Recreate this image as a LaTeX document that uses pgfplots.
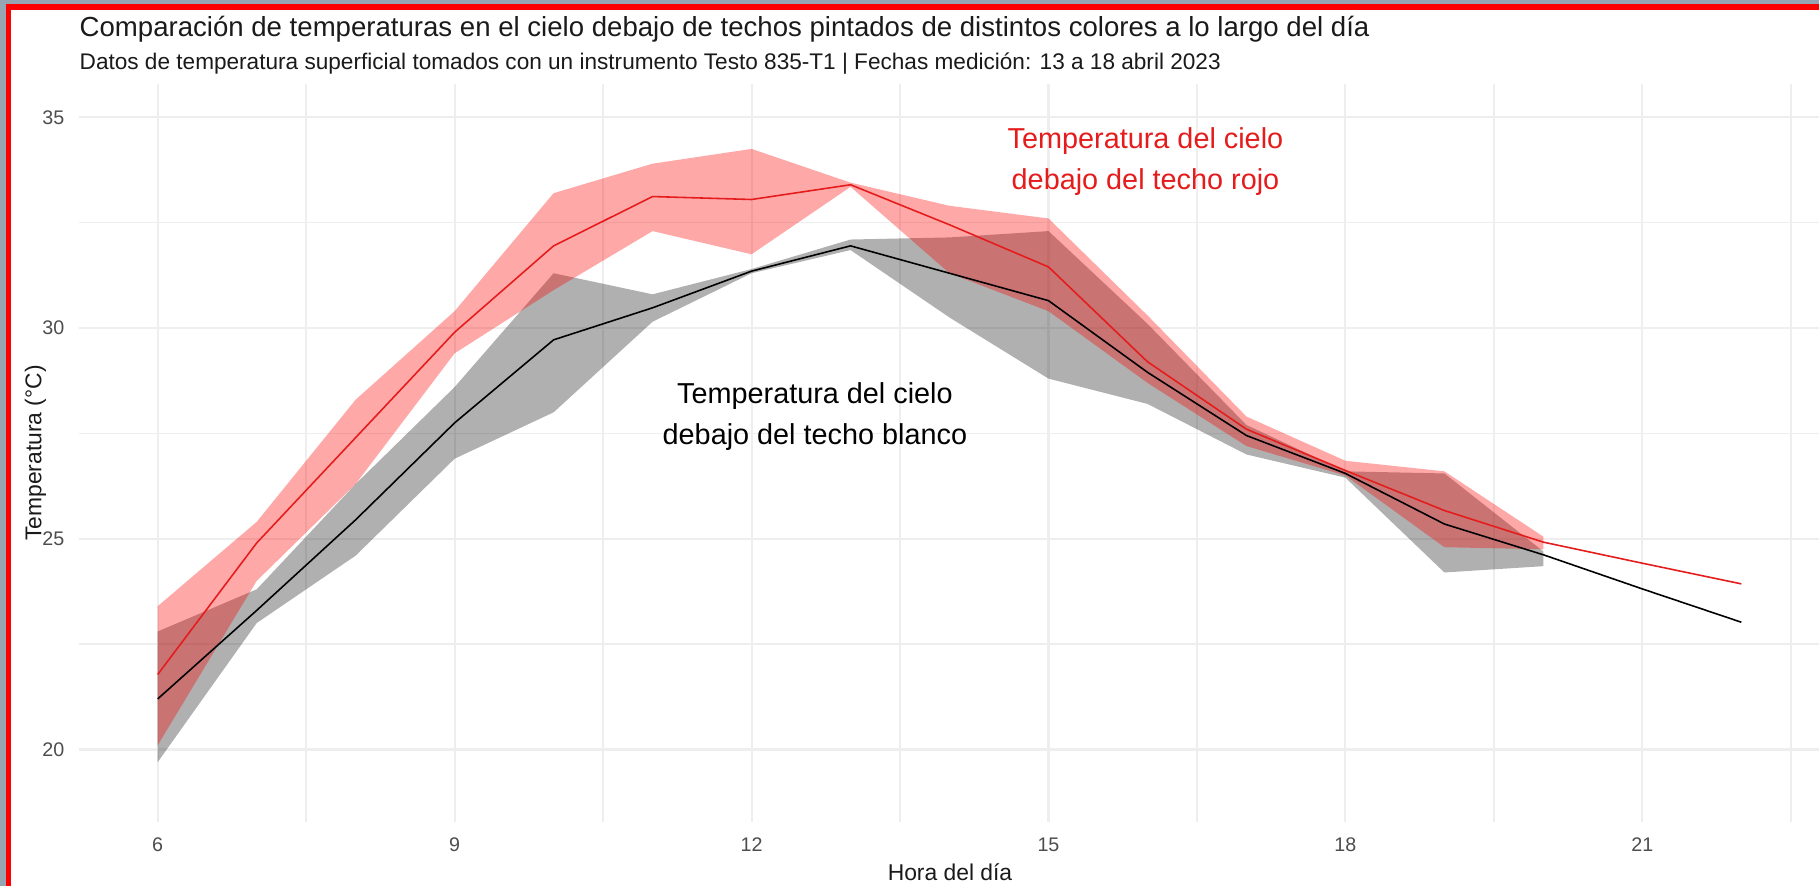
\documentclass[border=0pt]{standalone}
\usepackage{fontspec}
\setmainfont{Liberation Sans}
\usepackage{pgfplots}
\pgfplotsset{compat=1.18}
\definecolor{rojo}{RGB}{228,28,28}
\definecolor{gridc}{RGB}{238,238,238}
\definecolor{tickc}{RGB}{77,77,77}
\definecolor{photo}{RGB}{150,165,180}
\definecolor{titc}{RGB}{26,26,26}
\begin{document}
\begin{tikzpicture}[x=1cm,y=1cm]
\useasboundingbox (0,0) rectangle (18.19,8.86);
\fill[white] (0,0) rectangle (18.19,8.86);
\fill[photo] (0,0) rectangle (0.057,8.86);
\fill[photo] (0,8.815) rectangle (18.19,8.86);
\fill[red] (0.057,0) rectangle (0.107,8.815);
\fill[red] (0.057,8.76) rectangle (18.19,8.815);
\begin{axis}[
  at={(0.785cm,0.64cm)}, anchor=south west,
  scale only axis, width=17.42cm, height=7.384cm,
  xmin=5.2, xmax=22.8, ymin=18.28, ymax=35.8,
  axis line style={draw=none},
  major tick length=0pt, minor tick length=0pt,
  tick style={draw=none},
  xtick={6,9,12,15,18,21},
  minor xtick={7.5,10.5,13.5,16.5,19.5,22.5},
  ytick={20,25,30,35},
  minor ytick={22.5,27.5,32.5},
  grid=both,
  major grid style={draw=gridc, line width=0.6pt},
  minor grid style={draw=gridc, line width=0.45pt},
  /pgf/number format/assume math mode=true,
  ticklabel style={font=\fontsize{5.6}{6.5}\selectfont, text=tickc, inner sep=0pt},
  xticklabel style={yshift=-1.5mm},
  yticklabel style={xshift=-1.35mm},
  clip=false,
]
% gray ribbon
\addplot[draw=none, fill=black, fill opacity=0.31] coordinates {
 (6,22.8) (7,23.8) (8,26.3) (9,28.6) (10,31.3) (11,30.8) (12,31.4) (13,32.1) (14,32.15) (15,32.3) (16,30.1) (17,27.7) (18,26.6) (19,26.55) (20,24.7)
 (20,24.35) (19,24.2) (18,26.45) (17,27.0) (16,28.2) (15,28.8) (14,30.25) (13,31.85) (12,31.3) (11,30.15) (10,28.0) (9,26.9) (8,24.6) (7,23.0) (6,19.7)
} -- cycle;
% red ribbon
\addplot[draw=none, fill=red, fill opacity=0.34] coordinates {
 (6,23.4) (7,25.4) (8,28.3) (9,30.4) (10,33.2) (11,33.9) (12,34.25) (13,33.45) (14,32.9) (15,32.6) (16,30.3) (17,27.9) (18,26.85) (19,26.6) (20,25.05)
 (20,24.75) (19,24.8) (18,26.5) (17,27.2) (16,28.7) (15,30.4) (14,31.3) (13,33.35) (12,31.75) (11,32.3) (10,30.9) (9,29.4) (8,26.3) (7,24.0) (6,20.1)
} -- cycle;
% black line
\addplot[black, line width=0.45pt] coordinates {
 (6,21.2) (7,23.3) (8,25.45) (9,27.75) (10,29.72) (11,30.48) (12,31.35) (13,31.95) (14,31.3) (15,30.65) (16,28.95) (17,27.45) (18,26.55) (19,25.35) (20,24.62) (21,23.81) (22,23.02)
};
% red line
\addplot[rojo, line width=0.45pt] coordinates {
 (6,21.78) (7,24.9) (8,27.4) (9,29.9) (10,31.95) (11,33.12) (12,33.05) (13,33.4) (14,32.45) (15,31.45) (16,29.2) (17,27.6) (18,26.62) (19,25.67) (20,24.92) (21,24.42) (22,23.93)
};
\node[align=center, text=rojo, font=\fontsize{8.2}{11.9}\selectfont] at (axis cs:15.98,33.95) {Temperatura del cielo\\debajo del techo rojo};
\node[align=center, text=black, font=\fontsize{8.2}{11.9}\selectfont] at (axis cs:12.64,27.9) {Temperatura del cielo\\debajo del techo blanco};
\end{axis}
\node[anchor=base west, font=\fontsize{7.85}{9}\selectfont, text=titc, inner sep=0pt] at (0.79,8.495) {Comparación de temperaturas en el cielo debajo de techos pintados de distintos colores a lo largo del día};
\node[anchor=base west, font=\fontsize{6.43}{8}\selectfont, text=titc, inner sep=0pt] at (0.79,8.16) {Datos de temperatura superficial tomados con un instrumento Testo 835-T1 | Fechas medición: 13 a 18 abril 2023};
\node[rotate=90, font=\fontsize{6.5}{8}\selectfont, text=titc, inner sep=0pt] at (0.355,4.33) {Temperatura (°C)};
\node[font=\fontsize{6.5}{8}\selectfont, text=titc, inner sep=0pt] at (9.5,0.14) {Hora del día};
\end{tikzpicture}
\end{document}
